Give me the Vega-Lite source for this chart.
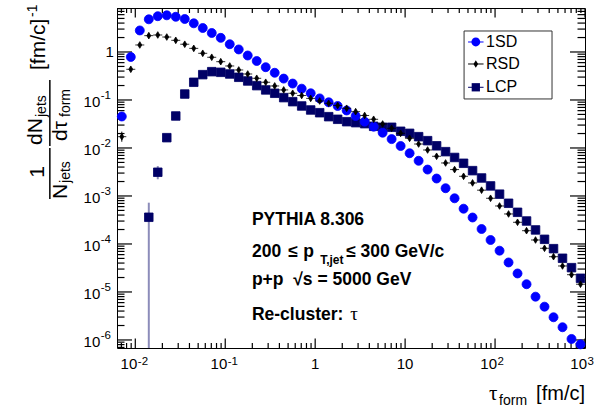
{
  "$schema": "https://vega.github.io/schema/vega-lite/v6.json",
  "width": 468,
  "height": 340,
  "autosize": {"type": "none"},
  "padding": {"left": 117, "top": 8, "right": 20, "bottom": 59},
  "background": "white",
  "config": {"view": {"stroke": "#000", "strokeWidth": 1}, "font": "Liberation Sans"},
  "datasets": {
    "pts": [
      {"t":0.01413,"s":"LCP","v":0.00036},{"t":0.01778,"s":"LCP","v":0.00312},{"t":0.02239,"s":"LCP","v":0.0164},{"t":0.02818,"s":"LCP","v":0.0464},{"t":0.03548,"s":"LCP","v":0.133},{"t":0.04467,"s":"LCP","v":0.234},{"t":0.05623,"s":"LCP","v":0.337},{"t":0.07079,"s":"LCP","v":0.389},{"t":0.08913,"s":"LCP","v":0.377},{"t":0.1122,"s":"LCP","v":0.348},{"t":0.1413,"s":"LCP","v":0.297},{"t":0.1778,"s":"LCP","v":0.249},{"t":0.2239,"s":"LCP","v":0.199},{"t":0.2818,"s":"LCP","v":0.162},{"t":0.3548,"s":"LCP","v":0.138},{"t":0.4467,"s":"LCP","v":0.112},{"t":0.5623,"s":"LCP","v":0.0922},{"t":0.7079,"s":"LCP","v":0.075},{"t":0.8913,"s":"LCP","v":0.0619},{"t":1.122,"s":"LCP","v":0.0543},{"t":1.413,"s":"LCP","v":0.0449},{"t":1.778,"s":"LCP","v":0.0396},{"t":2.239,"s":"LCP","v":0.0353},{"t":2.818,"s":"LCP","v":0.0337},{"t":3.548,"s":"LCP","v":0.0321},{"t":4.467,"s":"LCP","v":0.0283},{"t":5.623,"s":"LCP","v":0.027},{"t":7.079,"s":"LCP","v":0.027},{"t":8.913,"s":"LCP","v":0.0223},{"t":11.22,"s":"LCP","v":0.0202},{"t":14.13,"s":"LCP","v":0.0172},{"t":17.78,"s":"LCP","v":0.0142},{"t":22.39,"s":"LCP","v":0.0111},{"t":28.18,"s":"LCP","v":0.00838},{"t":35.48,"s":"LCP","v":0.00634},{"t":44.67,"s":"LCP","v":0.0048},{"t":56.23,"s":"LCP","v":0.00337},{"t":70.79,"s":"LCP","v":0.00237},{"t":89.13,"s":"LCP","v":0.00162},{"t":112.2,"s":"LCP","v":0.00109},{"t":141.3,"s":"LCP","v":0.000705},{"t":177.8,"s":"LCP","v":0.000457},{"t":223.9,"s":"LCP","v":0.000301},{"t":281.8,"s":"LCP","v":0.000196},{"t":354.8,"s":"LCP","v":0.000125},{"t":446.7,"s":"LCP","v":0.0000798},{"t":562.3,"s":"LCP","v":0.0000504},{"t":707.9,"s":"LCP","v":0.0000321},{"t":891.3,"s":"LCP","v":0.0000193},
      {"t":0.00708,"s":"1SD","v":0.0453},{"t":0.00891,"s":"1SD","v":0.787},{"t":0.01122,"s":"1SD","v":2.81},{"t":0.01413,"s":"1SD","v":4.8},{"t":0.01778,"s":"1SD","v":5.57},{"t":0.02239,"s":"1SD","v":5.81},{"t":0.02818,"s":"1SD","v":5.41},{"t":0.03548,"s":"1SD","v":4.87},{"t":0.04467,"s":"1SD","v":3.96},{"t":0.05623,"s":"1SD","v":3.16},{"t":0.07079,"s":"1SD","v":2.49},{"t":0.08913,"s":"1SD","v":1.97},{"t":0.1122,"s":"1SD","v":1.45},{"t":0.1413,"s":"1SD","v":1.13},{"t":0.1778,"s":"1SD","v":0.845},{"t":0.2239,"s":"1SD","v":0.649},{"t":0.2818,"s":"1SD","v":0.482},{"t":0.3548,"s":"1SD","v":0.369},{"t":0.4467,"s":"1SD","v":0.279},{"t":0.5623,"s":"1SD","v":0.22},{"t":0.7079,"s":"1SD","v":0.172},{"t":0.8913,"s":"1SD","v":0.138},{"t":1.122,"s":"1SD","v":0.108},{"t":1.413,"s":"1SD","v":0.0895},{"t":1.778,"s":"1SD","v":0.075},{"t":2.239,"s":"1SD","v":0.0604},{"t":2.818,"s":"1SD","v":0.0464},{"t":3.548,"s":"1SD","v":0.0353},{"t":4.467,"s":"1SD","v":0.0278},{"t":5.623,"s":"1SD","v":0.0208},{"t":7.079,"s":"1SD","v":0.0153},{"t":8.913,"s":"1SD","v":0.011},{"t":11.22,"s":"1SD","v":0.00776},{"t":14.13,"s":"1SD","v":0.00541},{"t":17.78,"s":"1SD","v":0.00355},{"t":22.39,"s":"1SD","v":0.00231},{"t":28.18,"s":"1SD","v":0.00145},{"t":35.48,"s":"1SD","v":0.000895},{"t":44.67,"s":"1SD","v":0.000543},{"t":56.23,"s":"1SD","v":0.000356},{"t":70.79,"s":"1SD","v":0.000205},{"t":89.13,"s":"1SD","v":0.000121},{"t":112.2,"s":"1SD","v":0.0000724},{"t":141.3,"s":"1SD","v":0.0000412},{"t":177.8,"s":"1SD","v":0.0000243},{"t":223.9,"s":"1SD","v":0.0000145},{"t":281.8,"s":"1SD","v":0.00000798},{"t":354.8,"s":"1SD","v":0.00000494},{"t":446.7,"s":"1SD","v":0.00000297},{"t":562.3,"s":"1SD","v":0.00000184},{"t":707.9,"s":"1SD","v":0.00000105},{"t":891.3,"s":"1SD","v":0.00000081},
      {"t":0.00708,"s":"RSD","v":0.0172},{"t":0.00891,"s":"RSD","v":0.436},{"t":0.01122,"s":"RSD","v":1.4},{"t":0.01413,"s":"RSD","v":2.19},{"t":0.01778,"s":"RSD","v":2.26},{"t":0.02239,"s":"RSD","v":2.05},{"t":0.02818,"s":"RSD","v":1.75},{"t":0.03548,"s":"RSD","v":1.45},{"t":0.04467,"s":"RSD","v":1.19},{"t":0.05623,"s":"RSD","v":0.939},{"t":0.07079,"s":"RSD","v":0.776},{"t":0.08913,"s":"RSD","v":0.628},{"t":0.1122,"s":"RSD","v":0.511},{"t":0.1413,"s":"RSD","v":0.422},{"t":0.1778,"s":"RSD","v":0.348},{"t":0.2239,"s":"RSD","v":0.283},{"t":0.2818,"s":"RSD","v":0.234},{"t":0.3548,"s":"RSD","v":0.196},{"t":0.4467,"s":"RSD","v":0.162},{"t":0.5623,"s":"RSD","v":0.138},{"t":0.7079,"s":"RSD","v":0.124},{"t":0.8913,"s":"RSD","v":0.108},{"t":1.122,"s":"RSD","v":0.0953},{"t":1.413,"s":"RSD","v":0.0853},{"t":1.778,"s":"RSD","v":0.0768},{"t":2.239,"s":"RSD","v":0.0671},{"t":2.818,"s":"RSD","v":0.0571},{"t":3.548,"s":"RSD","v":0.0475},{"t":4.467,"s":"RSD","v":0.0396},{"t":5.623,"s":"RSD","v":0.0316},{"t":7.079,"s":"RSD","v":0.0257},{"t":8.913,"s":"RSD","v":0.0202},{"t":11.22,"s":"RSD","v":0.0159},{"t":14.13,"s":"RSD","v":0.0121},{"t":17.78,"s":"RSD","v":0.00908},{"t":22.39,"s":"RSD","v":0.00671},{"t":28.18,"s":"RSD","v":0.00487},{"t":35.48,"s":"RSD","v":0.00355},{"t":44.67,"s":"RSD","v":0.00257},{"t":56.23,"s":"RSD","v":0.00187},{"t":70.79,"s":"RSD","v":0.00132},{"t":89.13,"s":"RSD","v":0.000895},{"t":112.2,"s":"RSD","v":0.000619},{"t":141.3,"s":"RSD","v":0.000422},{"t":177.8,"s":"RSD","v":0.000283},{"t":223.9,"s":"RSD","v":0.000189},{"t":281.8,"s":"RSD","v":0.000121},{"t":354.8,"s":"RSD","v":0.0000813},{"t":446.7,"s":"RSD","v":0.0000543},{"t":562.3,"s":"RSD","v":0.0000348},{"t":707.9,"s":"RSD","v":0.0000229},{"t":891.3,"s":"RSD","v":0.0000145}
    ],
    "errs": [
      {"t":0.01413,"s":"LCP","lo":1e-8,"hi":0.000725},
      {"t":0.01778,"s":"LCP","lo":0.00223,"hi":0.0042},
      {"t":0.00708,"s":"RSD","lo":0.0135,"hi":0.0219}
    ],
    "xmaj": [{"v":0.01},{"v":0.1},{"v":1},{"v":10},{"v":100},{"v":1000}],
    "xmin": [{"v":0.007},{"v":0.008},{"v":0.009},{"v":0.02},{"v":0.03},{"v":0.04},{"v":0.05},{"v":0.06},{"v":0.07},{"v":0.08},{"v":0.09},{"v":0.2},{"v":0.3},{"v":0.4},{"v":0.5},{"v":0.6},{"v":0.7},{"v":0.8},{"v":0.9},{"v":2},{"v":3},{"v":4},{"v":5},{"v":6},{"v":7},{"v":8},{"v":9},{"v":20},{"v":30},{"v":40},{"v":50},{"v":60},{"v":70},{"v":80},{"v":90},{"v":200},{"v":300},{"v":400},{"v":500},{"v":600},{"v":700},{"v":800},{"v":900}],
    "ymaj": [{"v":1e-6},{"v":1e-5},{"v":1e-4},{"v":0.001},{"v":0.01},{"v":0.1},{"v":1}],
    "ymin": [{"v":7e-7},{"v":8e-7},{"v":9e-7},{"v":2e-6},{"v":3e-6},{"v":4e-6},{"v":5e-6},{"v":6e-6},{"v":7e-6},{"v":8e-6},{"v":9e-6},{"v":2e-5},{"v":3e-5},{"v":4e-5},{"v":5e-5},{"v":6e-5},{"v":7e-5},{"v":8e-5},{"v":9e-5},{"v":2e-4},{"v":3e-4},{"v":4e-4},{"v":5e-4},{"v":6e-4},{"v":7e-4},{"v":8e-4},{"v":9e-4},{"v":0.002},{"v":0.003},{"v":0.004},{"v":0.005},{"v":0.006},{"v":0.007},{"v":0.008},{"v":0.009},{"v":0.02},{"v":0.03},{"v":0.04},{"v":0.05},{"v":0.06},{"v":0.07},{"v":0.08},{"v":0.09},{"v":0.2},{"v":0.3},{"v":0.4},{"v":0.5},{"v":0.6},{"v":0.7},{"v":0.8},{"v":0.9},{"v":2},{"v":3},{"v":4},{"v":5},{"v":6},{"v":7},{"v":8}],
    "xexp": [{"v":0.01,"e":"-2"},{"v":0.1,"e":"-1"},{"v":100,"e":"2"},{"v":1000,"e":"3"}],
    "xplain": [{"v":1,"b":"1"},{"v":10,"b":"10"}],
    "yexp": [{"v":0.1,"e":"-1"},{"v":0.01,"e":"-2"},{"v":0.001,"e":"-3"},{"v":0.0001,"e":"-4"},{"v":0.00001,"e":"-5"},{"v":0.000001,"e":"-6"}]
  },
  "layer": [
    {"data": {"name": "xmaj"}, "mark": {"type": "tick", "orient": "vertical", "size": 19, "thickness": 1.2, "color": "#000", "opacity": 1, "clip": true},
     "encoding": {"x": {"field": "v", "type": "quantitative", "scale": {"type": "log"}, "axis": null}, "y": {"datum": 6.8e-7, "type": "quantitative", "scale": {"type": "log"}, "axis": null}}},
    {"data": {"name": "xmin"}, "mark": {"type": "tick", "orient": "vertical", "size": 10, "thickness": 1.2, "color": "#000", "opacity": 1, "clip": true},
     "encoding": {"x": {"field": "v", "type": "quantitative", "scale": {"type": "log"}, "axis": null}, "y": {"datum": 6.8e-7, "type": "quantitative", "scale": {"type": "log"}, "axis": null}}},
    {"data": {"name": "xmaj"}, "mark": {"type": "tick", "orient": "vertical", "size": 19, "thickness": 1.2, "color": "#000", "opacity": 1, "clip": true},
     "encoding": {"x": {"field": "v", "type": "quantitative", "scale": {"type": "log"}, "axis": null}, "y": {"datum": 8.25, "type": "quantitative", "scale": {"type": "log"}, "axis": null}}},
    {"data": {"name": "xmin"}, "mark": {"type": "tick", "orient": "vertical", "size": 10, "thickness": 1.2, "color": "#000", "opacity": 1, "clip": true},
     "encoding": {"x": {"field": "v", "type": "quantitative", "scale": {"type": "log"}, "axis": null}, "y": {"datum": 8.25, "type": "quantitative", "scale": {"type": "log"}, "axis": null}}},
    {"data": {"name": "ymaj"}, "mark": {"type": "tick", "orient": "horizontal", "size": 30, "thickness": 1.2, "color": "#000", "opacity": 1, "clip": true},
     "encoding": {"y": {"field": "v", "type": "quantitative", "scale": {"type": "log"}, "axis": null}, "x": {"datum": 0.00626, "type": "quantitative", "scale": {"type": "log"}, "axis": null}}},
    {"data": {"name": "ymin"}, "mark": {"type": "tick", "orient": "horizontal", "size": 15, "thickness": 1.2, "color": "#000", "opacity": 1, "clip": true},
     "encoding": {"y": {"field": "v", "type": "quantitative", "scale": {"type": "log"}, "axis": null}, "x": {"datum": 0.00626, "type": "quantitative", "scale": {"type": "log"}, "axis": null}}},
    {"data": {"name": "ymaj"}, "mark": {"type": "tick", "orient": "horizontal", "size": 30, "thickness": 1.2, "color": "#000", "opacity": 1, "clip": true},
     "encoding": {"y": {"field": "v", "type": "quantitative", "scale": {"type": "log"}, "axis": null}, "x": {"datum": 1000, "type": "quantitative", "scale": {"type": "log"}, "axis": null}}},
    {"data": {"name": "ymin"}, "mark": {"type": "tick", "orient": "horizontal", "size": 15, "thickness": 1.2, "color": "#000", "opacity": 1, "clip": true},
     "encoding": {"y": {"field": "v", "type": "quantitative", "scale": {"type": "log"}, "axis": null}, "x": {"datum": 1000, "type": "quantitative", "scale": {"type": "log"}, "axis": null}}},
    {
      "data": {"name": "errs"},
      "transform": [{"filter": "datum.s == 'LCP'"}],
      "mark": {"type": "rule", "clip": true, "color": "#000066", "opacity": 0.45, "strokeWidth": 2},
      "encoding": {
        "x": {"field": "t", "type": "quantitative", "scale": {"type": "log"}, "axis": null},
        "y": {"field": "lo", "type": "quantitative", "scale": {"type": "log"}, "axis": null},
        "y2": {"field": "hi"}
      }
    },
    {
      "data": {"name": "errs"},
      "transform": [{"filter": "datum.s == 'RSD'"}],
      "mark": {"type": "rule", "clip": true, "color": "#000000", "strokeWidth": 1},
      "encoding": {
        "x": {"field": "t", "type": "quantitative", "scale": {"type": "log"}, "axis": null},
        "y": {"field": "lo", "type": "quantitative", "scale": {"type": "log"}, "axis": null},
        "y2": {"field": "hi"}
      }
    },
    {
      "data": {"name": "pts"},
      "mark": {"type": "point", "filled": true, "opacity": 1, "size": 81, "strokeWidth": 0.8},
      "encoding": {
        "x": {"field": "t", "type": "quantitative", "scale": {"type": "log", "domain": [0.00626, 1000], "nice": false}, "axis": null},
        "y": {"field": "v", "type": "quantitative", "scale": {"type": "log", "domain": [6.8e-7, 8.25], "nice": false}, "axis": null},
        "color": {"field": "s", "type": "nominal",
          "scale": {"domain": ["1SD", "RSD", "LCP"], "range": ["#0000ff", "#000000", "#000066"]}, "legend": null},
        "shape": {"field": "s", "type": "nominal",
          "scale": {"domain": ["1SD", "RSD", "LCP"], "range": ["M1,0A1,1,0,1,1,-1,0A1,1,0,1,1,1,0Z", "M-1,0H1M0,-0.74L0.44,0L0,0.74L-0.44,0Z", "M-0.95,-0.95H0.95V0.95H-0.95Z"]},
          "legend": null},
        "stroke": {"field": "s", "type": "nominal",
          "scale": {"domain": ["1SD", "RSD", "LCP"], "range": ["#0000ff", "#000000", "#000066"]}, "legend": null}
      }
    },
    {
      "data": {"values": [{}]},
      "mark": {"type": "rect", "fill": "white", "stroke": "#333", "strokeWidth": 1},
      "encoding": {"x": {"datum": 45.24, "type": "quantitative", "scale": {"type": "log"}, "axis": null}, "x2": {"datum": 429.9},
                   "y": {"datum": 2.738, "type": "quantitative", "scale": {"type": "log"}, "axis": null}, "y2": {"datum": 0.105}}
    },
    {
      "data": {"values": [{}]},
      "mark": {"type": "rule", "color": "#0000ff", "strokeWidth": 1},
      "encoding": {"x": {"datum": 50.12, "type": "quantitative", "scale": {"type": "log"}, "axis": null}, "x2": {"datum": 74.5}, "y": {"datum": 1.615, "type": "quantitative", "scale": {"type": "log"}, "axis": null}}
    },
    {
      "data": {"values": [{}]},
      "mark": {"type": "rule", "color": "#000000", "strokeWidth": 1},
      "encoding": {"x": {"datum": 50.12, "type": "quantitative", "scale": {"type": "log"}, "axis": null}, "x2": {"datum": 74.5}, "y": {"datum": 0.5623, "type": "quantitative", "scale": {"type": "log"}, "axis": null}}
    },
    {
      "data": {"values": [{}]},
      "mark": {"type": "rule", "color": "#000066", "strokeWidth": 1},
      "encoding": {"x": {"datum": 50.12, "type": "quantitative", "scale": {"type": "log"}, "axis": null}, "x2": {"datum": 74.5}, "y": {"datum": 0.1839, "type": "quantitative", "scale": {"type": "log"}, "axis": null}}
    },
    {
      "data": {"values": [{}]},
      "mark": {"type": "point", "filled": true, "opacity": 1, "size": 81, "color": "#0000ff", "shape": "M0.98,0A0.98,0.98,0,1,1,-0.98,0A0.98,0.98,0,1,1,0.98,0Z"},
      "encoding": {"x": {"datum": 61.1, "type": "quantitative", "scale": {"type": "log"}, "axis": null}, "y": {"datum": 1.615, "type": "quantitative", "scale": {"type": "log"}, "axis": null}}
    },
    {
      "data": {"values": [{}]},
      "mark": {"type": "point", "filled": true, "opacity": 1, "size": 81, "color": "#000000", "shape": "M0,-0.81L0.52,0L0,0.81L-0.52,0Z"},
      "encoding": {"x": {"datum": 61.1, "type": "quantitative", "scale": {"type": "log"}, "axis": null}, "y": {"datum": 0.5623, "type": "quantitative", "scale": {"type": "log"}, "axis": null}}
    },
    {
      "data": {"values": [{}]},
      "mark": {"type": "point", "filled": true, "opacity": 1, "size": 81, "color": "#000066", "shape": "M-0.92,-0.92H0.92V0.92H-0.92Z"},
      "encoding": {"x": {"datum": 61.1, "type": "quantitative", "scale": {"type": "log"}, "axis": null}, "y": {"datum": 0.1839, "type": "quantitative", "scale": {"type": "log"}, "axis": null}}
    },
    {
      "data": {"values": [{}]},
      "mark": {"type": "text", "font": "Liberation Sans", "fontSize": 16, "align": "left", "baseline": "middle", "color": "#000", "text": "1SD"},
      "encoding": {"x": {"datum": 79.43, "type": "quantitative", "scale": {"type": "log"}, "axis": null}, "y": {"datum": 1.615, "type": "quantitative", "scale": {"type": "log"}, "axis": null}}
    },
    {
      "data": {"values": [{}]},
      "mark": {"type": "text", "font": "Liberation Sans", "fontSize": 16, "align": "left", "baseline": "middle", "color": "#000", "text": "RSD"},
      "encoding": {"x": {"datum": 79.43, "type": "quantitative", "scale": {"type": "log"}, "axis": null}, "y": {"datum": 0.5623, "type": "quantitative", "scale": {"type": "log"}, "axis": null}}
    },
    {
      "data": {"values": [{}]},
      "mark": {"type": "text", "font": "Liberation Sans", "fontSize": 16, "align": "left", "baseline": "middle", "color": "#000", "text": "LCP"},
      "encoding": {"x": {"datum": 79.43, "type": "quantitative", "scale": {"type": "log"}, "axis": null}, "y": {"datum": 0.1839, "type": "quantitative", "scale": {"type": "log"}, "axis": null}}
    },
    {
      "data": {"name": "xexp"},
      "mark": {"type": "text", "font": "Liberation Sans", "fontSize": 15, "align": "right", "baseline": "alphabetic", "color": "#000", "text": "10", "dx": 2},
      "encoding": {"x": {"field": "v", "type": "quantitative", "scale": {"type": "log"}, "axis": null}, "y": {"datum": 2.43e-7, "type": "quantitative", "scale": {"type": "log"}, "axis": null}}
    },
    {
      "data": {"name": "xexp"},
      "mark": {"type": "text", "font": "Liberation Sans", "fontSize": 11.5, "align": "left", "baseline": "alphabetic", "color": "#000", "dx": 2.5},
      "encoding": {"x": {"field": "v", "type": "quantitative", "scale": {"type": "log"}, "axis": null}, "y": {"datum": 3.01e-7, "type": "quantitative", "scale": {"type": "log"}, "axis": null}, "text": {"field": "e"}}
    },
    {
      "data": {"name": "xplain"},
      "mark": {"type": "text", "font": "Liberation Sans", "fontSize": 15, "align": "center", "baseline": "alphabetic", "color": "#000"},
      "encoding": {"x": {"field": "v", "type": "quantitative", "scale": {"type": "log"}, "axis": null}, "y": {"datum": 2.43e-7, "type": "quantitative", "scale": {"type": "log"}, "axis": null}, "text": {"field": "b"}}
    },
    {
      "data": {"name": "yexp"},
      "mark": {"type": "text", "font": "Liberation Sans", "fontSize": 15, "align": "right", "baseline": "alphabetic", "color": "#000", "text": "10", "dy": 7.5},
      "encoding": {"x": {"datum": 0.00408, "type": "quantitative", "scale": {"type": "log"}, "axis": null}, "y": {"field": "v", "type": "quantitative", "scale": {"type": "log"}, "axis": null}}
    },
    {
      "data": {"name": "yexp"},
      "mark": {"type": "text", "font": "Liberation Sans", "fontSize": 11.5, "align": "left", "baseline": "alphabetic", "color": "#000", "dx": 0.5, "dy": -1},
      "encoding": {"x": {"datum": 0.00408, "type": "quantitative", "scale": {"type": "log"}, "axis": null}, "y": {"field": "v", "type": "quantitative", "scale": {"type": "log"}, "axis": null}, "text": {"field": "e"}}
    },
    {
      "data": {"values": [{}]},
      "mark": {"type": "text", "font": "Liberation Sans", "fontSize": 15, "align": "right", "baseline": "middle", "color": "#000", "text": "1"},
      "encoding": {"x": {"datum": 0.005767, "type": "quantitative", "scale": {"type": "log"}, "axis": null}, "y": {"datum": 1, "type": "quantitative", "scale": {"type": "log"}, "axis": null}}
    },
    {
      "data": {"values": [{}]},
      "mark": {"type": "text", "font": "Liberation Sans", "fontSize": 17.5, "fontWeight": "bold", "align": "left", "baseline": "alphabetic", "color": "#000", "text": "PYTHIA 8.306"},
      "encoding": {"x": {"datum": 0.198, "type": "quantitative", "scale": {"type": "log"}, "axis": null}, "y": {"datum": 0.000243, "type": "quantitative", "scale": {"type": "log"}, "axis": null}}
    },
    {
      "data": {"values": [{}]},
      "mark": {"type": "text", "font": "Liberation Sans", "fontSize": 17.5, "fontWeight": "bold", "align": "left", "baseline": "alphabetic", "color": "#000", "text": "200"},
      "encoding": {"x": {"datum": 0.198, "type": "quantitative", "scale": {"type": "log"}, "axis": null}, "y": {"datum": 0.0000536, "type": "quantitative", "scale": {"type": "log"}, "axis": null}}
    },
    {
      "data": {"values": [{}]},
      "mark": {"type": "text", "font": "Liberation Sans", "fontSize": 17.5, "fontWeight": "bold", "align": "left", "baseline": "alphabetic", "color": "#000", "text": "≤"},
      "encoding": {"x": {"datum": 0.501, "type": "quantitative", "scale": {"type": "log"}, "axis": null}, "y": {"datum": 0.0000536, "type": "quantitative", "scale": {"type": "log"}, "axis": null}}
    },
    {
      "data": {"values": [{}]},
      "mark": {"type": "text", "font": "Liberation Sans", "fontSize": 17.5, "fontWeight": "bold", "align": "left", "baseline": "alphabetic", "color": "#000", "text": "p"},
      "encoding": {"x": {"datum": 0.7356, "type": "quantitative", "scale": {"type": "log"}, "axis": null}, "y": {"datum": 0.0000536, "type": "quantitative", "scale": {"type": "log"}, "axis": null}}
    },
    {
      "data": {"values": [{}]},
      "mark": {"type": "text", "font": "Liberation Sans", "fontSize": 12, "fontWeight": "bold", "align": "left", "baseline": "alphabetic", "color": "#000", "text": "T,jet"},
      "encoding": {"x": {"datum": 1.137, "type": "quantitative", "scale": {"type": "log"}, "axis": null}, "y": {"datum": 0.0000383, "type": "quantitative", "scale": {"type": "log"}, "axis": null}}
    },
    {
      "data": {"values": [{}]},
      "mark": {"type": "text", "font": "Liberation Sans", "fontSize": 17.5, "fontWeight": "bold", "align": "left", "baseline": "alphabetic", "color": "#000", "text": "≤ 300 GeV/c"},
      "encoding": {"x": {"datum": 2.21, "type": "quantitative", "scale": {"type": "log"}, "axis": null}, "y": {"datum": 0.0000536, "type": "quantitative", "scale": {"type": "log"}, "axis": null}}
    },
    {
      "data": {"values": [{}]},
      "mark": {"type": "text", "font": "Liberation Sans", "fontSize": 17.5, "fontWeight": "bold", "align": "left", "baseline": "alphabetic", "color": "#000", "text": "p+p\u00a0\u00a0√s = 5000 GeV"},
      "encoding": {"x": {"datum": 0.198, "type": "quantitative", "scale": {"type": "log"}, "axis": null}, "y": {"datum": 0.000014, "type": "quantitative", "scale": {"type": "log"}, "axis": null}}
    },
    {
      "data": {"values": [{}]},
      "mark": {"type": "text", "font": "Liberation Sans", "fontSize": 17.5, "fontWeight": "bold", "align": "left", "baseline": "alphabetic", "color": "#000", "text": "Re-cluster:"},
      "encoding": {"x": {"datum": 0.198, "type": "quantitative", "scale": {"type": "log"}, "axis": null}, "y": {"datum": 0.00000261, "type": "quantitative", "scale": {"type": "log"}, "axis": null}}
    },
    {
      "data": {"values": [{}]},
      "mark": {"type": "text", "font": "Liberation Serif", "fontSize": 19, "align": "left", "baseline": "alphabetic", "color": "#000", "text": "τ"},
      "encoding": {"x": {"datum": 2.448, "type": "quantitative", "scale": {"type": "log"}, "axis": null}, "y": {"datum": 0.00000261, "type": "quantitative", "scale": {"type": "log"}, "axis": null}}
    },
    {
      "data": {"values": [{}]},
      "mark": {"type": "text", "font": "Liberation Serif", "fontSize": 21, "align": "left", "baseline": "alphabetic", "color": "#000", "text": "τ"},
      "encoding": {"x": {"datum": 85.8, "type": "quantitative", "scale": {"type": "log"}, "axis": null}, "y": {"datum": 5.62e-8, "type": "quantitative", "scale": {"type": "log"}, "axis": null}}
    },
    {
      "data": {"values": [{}]},
      "mark": {"type": "text", "font": "Liberation Sans", "fontSize": 14, "align": "left", "baseline": "alphabetic", "color": "#000", "text": "form"},
      "encoding": {"x": {"datum": 110.8, "type": "quantitative", "scale": {"type": "log"}, "axis": null}, "y": {"datum": 4.42e-8, "type": "quantitative", "scale": {"type": "log"}, "axis": null}}
    },
    {
      "data": {"values": [{}]},
      "mark": {"type": "text", "font": "Liberation Sans", "fontSize": 20, "align": "right", "baseline": "alphabetic", "color": "#000", "text": "[fm/c]"},
      "encoding": {"x": {"datum": 1000, "type": "quantitative", "scale": {"type": "log"}, "axis": null}, "y": {"datum": 5.62e-8, "type": "quantitative", "scale": {"type": "log"}, "axis": null}}
    },
    {
      "data": {"values": [{}]},
      "mark": {"type": "text", "font": "Liberation Sans", "fontSize": 21, "angle": 270, "align": "center", "baseline": "alphabetic", "color": "#000", "text": "1"},
      "encoding": {"x": {"datum": 0.000975, "type": "quantitative", "scale": {"type": "log"}, "axis": null}, "y": {"datum": 0.003162, "type": "quantitative", "scale": {"type": "log"}, "axis": null}}
    },
    {
      "data": {"values": [{}]},
      "mark": {"type": "rule", "color": "#000", "strokeWidth": 1.5},
      "encoding": {"x": {"datum": 0.001122, "type": "quantitative", "scale": {"type": "log"}, "axis": null}, "y": {"datum": 0.01, "type": "quantitative", "scale": {"type": "log"}, "axis": null}, "y2": {"datum": 0.000866}}
    },
    {
      "data": {"values": [{}]},
      "mark": {"type": "text", "font": "Liberation Sans", "fontSize": 21, "angle": 270, "align": "left", "baseline": "alphabetic", "color": "#000", "text": "N"},
      "encoding": {"x": {"datum": 0.001755, "type": "quantitative", "scale": {"type": "log"}, "axis": null}, "y": {"datum": 0.000866, "type": "quantitative", "scale": {"type": "log"}, "axis": null}}
    },
    {
      "data": {"values": [{}]},
      "mark": {"type": "text", "font": "Liberation Sans", "fontSize": 14, "angle": 270, "align": "left", "baseline": "alphabetic", "color": "#000", "text": "jets"},
      "encoding": {"x": {"datum": 0.001896, "type": "quantitative", "scale": {"type": "log"}, "axis": null}, "y": {"datum": 0.001866, "type": "quantitative", "scale": {"type": "log"}, "axis": null}}
    },
    {
      "data": {"values": [{}]},
      "mark": {"type": "text", "font": "Liberation Sans", "fontSize": 21, "angle": 270, "align": "left", "baseline": "alphabetic", "color": "#000", "text": "dN"},
      "encoding": {"x": {"datum": 0.000926, "type": "quantitative", "scale": {"type": "log"}, "axis": null}, "y": {"datum": 0.01155, "type": "quantitative", "scale": {"type": "log"}, "axis": null}}
    },
    {
      "data": {"values": [{}]},
      "mark": {"type": "text", "font": "Liberation Sans", "fontSize": 14, "angle": 270, "align": "left", "baseline": "alphabetic", "color": "#000", "text": "jets"},
      "encoding": {"x": {"datum": 0.001026, "type": "quantitative", "scale": {"type": "log"}, "axis": null}, "y": {"datum": 0.0442, "type": "quantitative", "scale": {"type": "log"}, "axis": null}}
    },
    {
      "data": {"values": [{}]},
      "mark": {"type": "rule", "color": "#000", "strokeWidth": 1.5},
      "encoding": {"x": {"datum": 0.001122, "type": "quantitative", "scale": {"type": "log"}, "axis": null}, "y": {"datum": 0.261, "type": "quantitative", "scale": {"type": "log"}, "axis": null}, "y2": {"datum": 0.011}}
    },
    {
      "data": {"values": [{}]},
      "mark": {"type": "text", "font": "Liberation Sans", "fontSize": 21, "angle": 270, "align": "left", "baseline": "alphabetic", "color": "#000", "text": "dτ"},
      "encoding": {"x": {"datum": 0.001755, "type": "quantitative", "scale": {"type": "log"}, "axis": null}, "y": {"datum": 0.014, "type": "quantitative", "scale": {"type": "log"}, "axis": null}}
    },
    {
      "data": {"values": [{}]},
      "mark": {"type": "text", "font": "Liberation Sans", "fontSize": 14, "angle": 270, "align": "left", "baseline": "alphabetic", "color": "#000", "text": "form"},
      "encoding": {"x": {"datum": 0.001896, "type": "quantitative", "scale": {"type": "log"}, "axis": null}, "y": {"datum": 0.0442, "type": "quantitative", "scale": {"type": "log"}, "axis": null}}
    },
    {
      "data": {"values": [{}]},
      "mark": {"type": "text", "font": "Liberation Sans", "fontSize": 21, "angle": 270, "align": "left", "baseline": "alphabetic", "color": "#000", "text": "[fm/c]"},
      "encoding": {"x": {"datum": 0.001, "type": "quantitative", "scale": {"type": "log"}, "axis": null}, "y": {"datum": 0.4217, "type": "quantitative", "scale": {"type": "log"}, "axis": null}}
    },
    {
      "data": {"values": [{}]},
      "mark": {"type": "text", "font": "Liberation Sans", "fontSize": 14, "angle": 270, "align": "left", "baseline": "alphabetic", "color": "#000", "text": "-1"},
      "encoding": {"x": {"datum": 0.000815, "type": "quantitative", "scale": {"type": "log"}, "axis": null}, "y": {"datum": 5.36, "type": "quantitative", "scale": {"type": "log"}, "axis": null}}
    }
  ]
}
